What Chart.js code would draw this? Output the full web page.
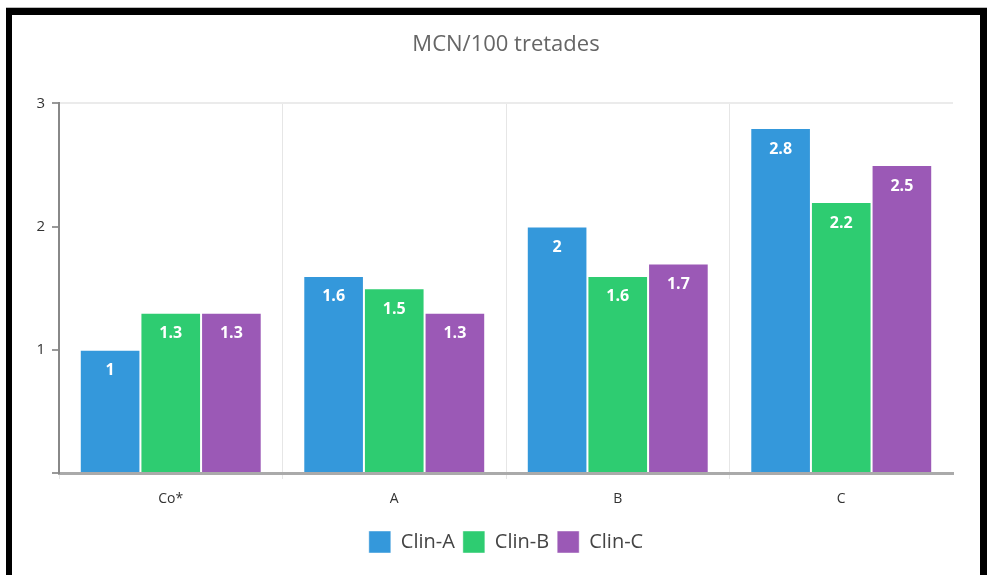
<!DOCTYPE html>
<html>
<head>
<meta charset="utf-8">
<script src="https://cdn.jsdelivr.net/npm/chart.js@4.4.1/dist/chart.umd.min.js"></script>
<style>
  html, body { margin: 0; padding: 0; background: #fff; }
  #wrap { position: relative; width: 987px; height: 575px; overflow: hidden; }
  #grafico { position: absolute; left: 0; top: 0; }
  #marco {
    position: absolute; left: 6px; top: 8px; width: 981px; height: 567px;
    box-sizing: border-box; border-top: 7px solid #000; border-left: 6px solid #000; border-right: 7px solid #000;
    pointer-events: none;
  }
  #linea { position: absolute; left: 6px; top: 7px; width: 981px; height: 1px; background: #bbb; }
</style>
</head>
<body>
<div id="wrap">
  <canvas id="grafico" width="987" height="575"></canvas>
  <div id="linea"></div>
  <div id="marco"></div>
</div>
<script>
const categorias = ['Co*', 'A', 'B', 'C'];
const series = ['Clin-A', 'Clin-B', 'Clin-C'];
const clinA = [1, 1.6, 2, 2.8];
const clinB = [1.3, 1.5, 1.6, 2.2];
const clinC = [1.3, 1.3, 1.7, 2.5];
const colores = ['#3498db', '#2ecc71', '#9b59b6'];
const ticksY = [0, 1, 2, 3];

const FUENTE = '"Open Sans", "Noto Sans", sans-serif';

// etiquetas blancas dentro de cada barra, cerca del borde superior
const etiquetasBarras = {
  id: 'etiquetasBarras',
  afterDatasetsDraw(chart) {
    const ctx = chart.ctx;
    ctx.save();
    ctx.fillStyle = '#fff';
    ctx.font = 'bold 16px ' + FUENTE;
    ctx.textAlign = 'center';
    ctx.textBaseline = 'middle';
    chart.data.datasets.forEach((ds, i) => {
      chart.getDatasetMeta(i).data.forEach((bar, j) => {
        ctx.fillText(String(ds.data[j]), bar.x, bar.y + 21);
      });
    });
    ctx.restore();
  }
};

const datos = [clinA, clinB, clinC];

new Chart(document.getElementById('grafico'), {
  type: 'bar',
  data: {
    labels: categorias,
    datasets: series.map((s, i) => ({
      label: s,
      data: datos[i],
      backgroundColor: colores[i],
      borderColor: 'rgba(255,255,255,0.45)',
      borderWidth: 1,
      categoryPercentage: 0.814,
      barPercentage: 1,
    })),
  },
  options: {
    responsive: false,
    animation: false,
    layout: { padding: { left: 28, right: 34, top: 0, bottom: 12 } },
    plugins: {
      title: {
        display: true,
        fullSize: false,
        text: 'MCN/100 tretades',
        color: '#666',
        font: { family: FUENTE, size: 22, weight: 'normal' },
        padding: { top: 32, bottom: 45 },
      },
      legend: {
        position: 'bottom',
        fullSize: false,
        labels: {
          boxWidth: 22,
          boxHeight: 22,
          padding: 8,
          color: '#444',
          font: { family: FUENTE, size: 20 },
        },
      },
      tooltip: { enabled: false },
    },
    scales: {
      x: {
        grid: {
          // sin línea en el borde derecho
          color: c => c.tick ? '#e6e6e6' : 'rgba(0,0,0,0)',
          tickLength: 6,
        },
        border: { display: true, color: '#aaa', width: 3 },
        ticks: { color: '#333', padding: 12, font: { family: FUENTE, size: 14 } },
        afterFit: s => { s.height = 50; },
      },
      y: {
        min: ticksY[0],
        max: ticksY[ticksY.length - 1],
        afterBuildTicks: s => { s.ticks = ticksY.map(v => ({ value: v })); },
        grid: {
          color: c => c.tick && c.tick.value === 3 ? '#ebebeb' : 'rgba(0,0,0,0)',
          tickColor: '#999',
          tickLength: 7,
          lineWidth: 2,
        },
        border: { display: true, color: '#888', width: 2 },
        ticks: {
          color: '#333',
          padding: 7,
          font: { family: FUENTE, size: 15 },
          callback: v => v === 0 ? '' : v,
        },
        afterFit: s => { s.width = 31; },
      },
    },
  },
  plugins: [etiquetasBarras],
});
</script>
</body>
</html>
